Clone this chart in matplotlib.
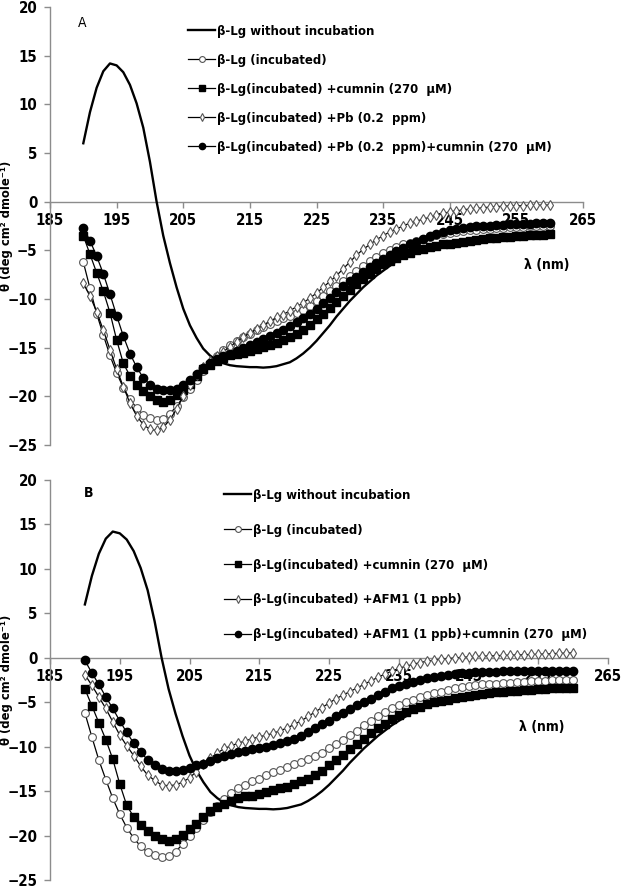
import matplotlib
matplotlib.use("Agg")
import matplotlib.pyplot as plt
from matplotlib import font_manager as fm

# ---------------- data ----------------
wavelength = list(range(190, 261))

no_incubation = [6.0, 9.2, 11.7, 13.4, 14.2, 14.0, 13.3, 12.0, 10.1, 7.6,
                 4.1, 0.0, -3.5, -6.3, -8.8, -11.0, -12.7, -14.0, -15.1, -15.8,
                 -16.3, -16.6, -16.8, -16.9, -16.95, -17.0, -17.0, -17.05, -17.0, -16.9,
                 -16.7, -16.5, -16.1, -15.6, -15.0, -14.3, -13.5, -12.7, -11.8, -11.0,
                 -10.2, -9.5, -8.8, -8.2, -7.6, -7.1, -6.6, -6.1, -5.7, -5.3,
                 -5.0, -4.8, -4.6, -4.45, -4.3, -4.2, -4.1, -4.0, -3.95, -3.9,
                 -3.85, -3.8, -3.75, -3.7, -3.68, -3.65, -3.62, -3.6, -3.58, -3.56,
                 -3.55]

incubated = [-6.2, -8.9, -11.5, -13.7, -15.8, -17.6, -19.1, -20.3, -21.2, -21.9,
             -22.2, -22.4, -22.3, -21.8, -21.0, -20.1, -19.2, -18.3, -17.4, -16.7,
             -15.9, -15.2, -14.7, -14.3, -13.9, -13.6, -13.2, -12.9, -12.6, -12.3,
             -12.0, -11.7, -11.4, -11.1, -10.7, -10.2, -9.7, -9.2, -8.7, -8.2,
             -7.6, -7.1, -6.6, -6.1, -5.7, -5.3, -5.0, -4.7, -4.4, -4.2,
             -4.0, -3.8, -3.6, -3.45, -3.3, -3.2, -3.1, -3.0, -2.95, -2.9,
             -2.85, -2.8, -2.75, -2.7, -2.65, -2.6, -2.57, -2.54, -2.51, -2.48,
             -2.45]

cumnin = [-3.5, -5.4, -7.3, -9.2, -11.4, -14.2, -16.6, -17.9, -18.8, -19.5,
          -20.0, -20.4, -20.6, -20.4, -19.9, -19.3, -18.7, -17.9, -17.2, -16.8,
          -16.4, -16.1, -15.8, -15.6, -15.5, -15.3, -15.1, -14.9, -14.7, -14.5,
          -14.2, -13.9, -13.6, -13.2, -12.7, -12.1, -11.5, -10.9, -10.3, -9.7,
          -9.1, -8.5, -7.9, -7.4, -6.9, -6.4, -6.1, -5.8, -5.5, -5.25,
          -5.0, -4.85, -4.7, -4.55, -4.4, -4.3, -4.2, -4.1, -4.0, -3.9,
          -3.8, -3.75, -3.7, -3.65, -3.6, -3.55, -3.5, -3.45, -3.42, -3.4,
          -3.35]

pb = [-8.4, -9.7, -11.3, -13.2, -15.2, -17.2, -19.0, -20.7, -22.0, -22.9,
      -23.4, -23.5, -23.2, -22.4, -21.3, -20.0, -18.8, -17.8, -17.0, -16.4,
      -15.9, -15.4, -14.9, -14.4, -13.9, -13.5, -13.1, -12.7, -12.3, -11.9,
      -11.6, -11.2, -10.8, -10.4, -9.9, -9.4, -8.8, -8.2, -7.6, -6.9,
      -6.2, -5.5, -4.9, -4.4, -3.9, -3.5, -3.1, -2.8, -2.5, -2.2,
      -2.0, -1.8, -1.6, -1.4, -1.2, -1.05, -0.95, -0.85, -0.75, -0.7,
      -0.62, -0.56, -0.51, -0.47, -0.44, -0.42, -0.4, -0.38, -0.36, -0.35,
      -0.34]

pb_cumnin = [-2.7, -4.0, -5.6, -7.4, -9.5, -11.7, -13.8, -15.6, -17.0, -18.1,
             -18.8, -19.2, -19.4, -19.4, -19.2, -18.8, -18.3, -17.7, -17.1, -16.6,
             -16.2, -15.9, -15.6, -15.3, -15.0, -14.7, -14.4, -14.1, -13.8, -13.5,
             -13.2, -12.8, -12.4, -12.0, -11.5, -11.0, -10.4, -9.9, -9.3, -8.7,
             -8.2, -7.7, -7.2, -6.7, -6.3, -5.9, -5.5, -5.1, -4.75, -4.4,
             -4.1, -3.8, -3.55, -3.3, -3.1, -2.95, -2.8, -2.7, -2.6, -2.55,
             -2.5, -2.45, -2.4, -2.37, -2.34, -2.31, -2.28, -2.26, -2.24, -2.22,
             -2.2]

afm1 = [-1.9, -3.1, -4.4, -5.7, -7.2, -8.7, -9.9, -11.0, -12.2, -13.2,
        -13.8, -14.3, -14.4, -14.3, -14.0, -13.5, -12.8, -12.0, -11.3, -10.7,
        -10.2, -9.9, -9.6, -9.35, -9.1, -8.9, -8.7, -8.5, -8.2, -7.9,
        -7.5, -7.1, -6.6, -6.1, -5.6, -5.1, -4.6, -4.2, -3.8, -3.4,
        -3.0, -2.6, -2.2, -1.85, -1.5, -1.2, -0.95, -0.75, -0.55, -0.4,
        -0.27, -0.17, -0.1, -0.02, 0.05, 0.1, 0.15, 0.18, 0.21, 0.24,
        0.27, 0.3, 0.32, 0.35, 0.37, 0.4, 0.43, 0.46, 0.5, 0.53,
        0.56]

afm1_cumnin = [-0.3, -1.7, -3.0, -4.4, -5.7, -7.1, -8.4, -9.6, -10.6, -11.5,
               -12.1, -12.5, -12.7, -12.75, -12.6, -12.4, -12.1, -11.9, -11.6, -11.3,
               -11.0, -10.8, -10.6, -10.45, -10.3, -10.15, -10.0, -9.8, -9.6, -9.4,
               -9.15, -8.75, -8.35, -7.9, -7.5, -7.1, -6.6, -6.2, -5.75, -5.35,
               -5.0, -4.6, -4.2, -3.8, -3.45, -3.15, -2.9, -2.7, -2.5, -2.3,
               -2.15, -2.0, -1.9, -1.82, -1.75, -1.7, -1.65, -1.6, -1.57, -1.55,
               -1.53, -1.52, -1.51, -1.5, -1.49, -1.48, -1.47, -1.46, -1.46, -1.45,
               -1.45]

labels_a = ["β-Lg without incubation", "β-Lg (incubated)",
            "β-Lg(incubated) +cumnin (270  μM)", "β-Lg(incubated) +Pb (0.2  ppm)",
            "β-Lg(incubated) +Pb (0.2  ppm)+cumnin (270  μM)"]
labels_b = ["β-Lg without incubation", "β-Lg (incubated)",
            "β-Lg(incubated) +cumnin (270  μM)", "β-Lg(incubated) +AFM1 (1 ppb)",
            "β-Lg(incubated) +AFM1 (1 ppb)+cumnin (270  μM)"]

x_ticks = [185, 195, 205, 215, 225, 235, 245, 255, 265]
y_ticks = [-25, -20, -15, -10, -5, 0, 5, 10, 15, 20]
y_label = "θ (deg cm² dmole⁻¹)"

for s in (no_incubation, incubated, cumnin, pb, pb_cumnin, afm1, afm1_cumnin):
    assert len(s) == len(wavelength), len(s)

# ---------------- fonts ----------------
cond_bold = None
cond_reg = None
for f in fm.fontManager.ttflist:
    if f.fname.endswith("DejaVuSansCondensed-Bold.ttf"):
        cond_bold = f.fname
    if f.fname.endswith("DejaVuSansCondensed.ttf"):
        cond_reg = f.fname
if cond_bold:
    def fp(size, bold=True):
        return fm.FontProperties(fname=cond_bold if bold else (cond_reg or cond_bold), size=size)
else:
    def fp(size, bold=True):
        return fm.FontProperties(family="DejaVu Sans", weight="bold" if bold else "normal",
                                 size=size * 0.86)

# ---------------- figure ----------------
W, H = 622, 889
fig = plt.figure(figsize=(W / 100, H / 100), dpi=100)


def px_axes(l, t, r, b):
    return fig.add_axes([l / W, 1 - b / H, (r - l) / W, (b - t) / H])


ax_a = px_axes(50, 7, 583, 445)
ax_b = px_axes(50, 480, 608, 880)

gray = "#8c8c8c"


def draw(ax, s3, s4, labels, leg_xy, spacing, lam_xy, letter, letter_xy, letter_bold):
    h0, = ax.plot(wavelength, no_incubation, color="black", lw=1.7, zorder=3)
    h1, = ax.plot(wavelength, incubated, color="black", lw=0.9, marker="o", ms=5.6,
                  mfc="white", mec="#555555", mew=0.8, zorder=4)
    h2, = ax.plot(wavelength, cumnin, color="black", lw=0.9, marker="s", ms=5.6,
                  mfc="black", mec="black", zorder=5)
    h3, = ax.plot(wavelength, s3, color="black", lw=0.9, marker="d", ms=5.2,
                  mfc="white", mec="#555555", mew=0.8, zorder=6)
    h4, = ax.plot(wavelength, s4, color="black", lw=0.9, marker="o", ms=6.0,
                  mfc="black", mec="black", zorder=7)

    ax.set_xlim(185, 265)
    ax.set_ylim(-25, 20)
    ax.set_xticks(x_ticks)
    ax.set_yticks(y_ticks)
    ax.spines["top"].set_visible(False)
    ax.spines["right"].set_visible(False)
    ax.spines["bottom"].set_position(("data", 0))
    for sp in ("left", "bottom"):
        ax.spines[sp].set_color(gray)
        ax.spines[sp].set_linewidth(1.0)
    ax.tick_params(axis="both", direction="out", length=4, color=gray, width=1.0)
    ax.tick_params(axis="y", pad=5)
    ax.tick_params(axis="x", pad=4)
    for lab in ax.get_xticklabels() + ax.get_yticklabels():
        lab.set_fontproperties(fp(10.8))
    ax.set_ylabel(y_label, fontproperties=fp(9.3))
    ax.yaxis.set_label_coords(-37 / ax.bbox.width, 0.5)

    ax.legend([h0, h1, h2, h3, h4], labels, loc="upper left",
              bbox_to_anchor=(leg_xy[0] / W, 1 - leg_xy[1] / H),
              bbox_transform=fig.transFigure, frameon=False,
              prop=fp(9.4), handlelength=2.1, handletextpad=0.15,
              labelspacing=spacing, borderpad=0, borderaxespad=0,
              markerscale=0.75)
    ax.text(lam_xy[0], lam_xy[1], "λ (nm)", fontproperties=fp(10),
            ha="center", va="center")
    ax.text(letter_xy[0], letter_xy[1], letter, fontproperties=fp(10, letter_bold),
            ha="center", va="center")


draw(ax_a, pb, pb_cumnin, labels_a, (188, 25), 1.22, (259.6, -6.5), "A", (189.8, 18.4), False)
draw(ax_b, afm1, afm1_cumnin, labels_b, (224, 489), 1.67, (255.5, -7.8), "B", (190.6, 18.5), True)

fig.savefig("out.png", dpi=100)
